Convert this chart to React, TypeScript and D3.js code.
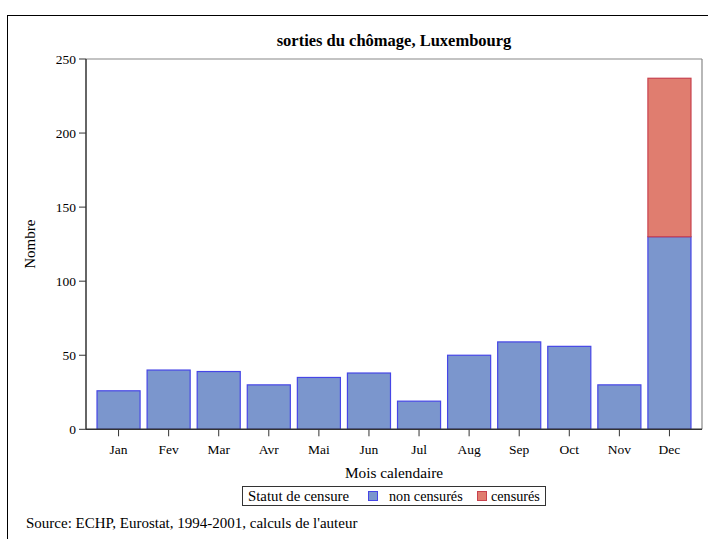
import React from "react";
import * as d3 from "d3";

const months = ["Jan", "Fev", "Mar", "Avr", "Mai", "Jun", "Jul", "Aug", "Sep", "Oct", "Nov", "Dec"];
const nonCensures = [26, 40, 39, 30, 35, 38, 19, 50, 59, 56, 30, 130];
const censures = [0, 0, 0, 0, 0, 0, 0, 0, 0, 0, 0, 107];
const yTicks = [0, 50, 100, 150, 200, 250];

const W = 708;
const H = 539;
const left = 86;
const right = 702;
const top = 59;
const bottom = 429.3;
const font = "'Liberation Serif', 'Times New Roman', serif";

export default function App() {
  const x = d3.scaleBand<string>().domain(months).range([left, right]).paddingInner(0.14).paddingOuter(0.22);
  const y = d3.scaleLinear().domain([0, 250]).range([bottom, top]);
  const bw = x.bandwidth();

  return (
    <svg width={W} height={H} style={{ position: "absolute", left: 0, top: 0, background: "#fff" }} fontFamily={font}>
      <rect x={7.5} y={15.5} width={760} height={600} fill="#fff" stroke="#000" strokeWidth={1} />
      <text x={(left + right) / 2} y={46} textAnchor="middle" fontWeight="bold" fontSize={16.5}>
        sorties du chômage, Luxembourg
      </text>
      <line x1={left} x2={right} y1={top} y2={top} stroke="#888" strokeWidth={1.2} />
      <line x1={right} x2={right} y1={top} y2={bottom} stroke="#888" strokeWidth={1.2} />
      {months.map((m, i) => (
        <g key={m}>
          <rect
            x={x(m)!}
            y={y(nonCensures[i])}
            width={bw}
            height={y(0) - y(nonCensures[i])}
            fill="#7b96cd"
            stroke="#4646e6"
            strokeWidth={1.2}
          />
          {censures[i] > 0 && (
            <rect
              x={x(m)!}
              y={y(nonCensures[i] + censures[i])}
              width={bw}
              height={y(nonCensures[i]) - y(nonCensures[i] + censures[i])}
              fill="#e07d6f"
              stroke="#c8424e"
              strokeWidth={1.2}
            />
          )}
        </g>
      ))}
      <line x1={left} x2={left} y1={top} y2={bottom} stroke="#333" strokeWidth={1.5} />
      <line x1={left} x2={right} y1={bottom} y2={bottom} stroke="#333" strokeWidth={1.5} />
      {yTicks.map((t) => (
        <g key={t}>
          <line x1={left - 7} x2={left} y1={y(t)} y2={y(t)} stroke="#333" strokeWidth={1} />
          <text x={left - 10} y={y(t) + 4.5} textAnchor="end" fontSize={13.5}>
            {t}
          </text>
        </g>
      ))}
      {months.map((m) => (
        <g key={m}>
          <line x1={x(m)! + bw / 2} x2={x(m)! + bw / 2} y1={bottom} y2={bottom + 7} stroke="#333" strokeWidth={1} />
          <text x={x(m)! + bw / 2} y={454} textAnchor="middle" fontSize={13.5}>
            {m}
          </text>
        </g>
      ))}
      <text transform={`translate(35, ${(top + bottom) / 2}) rotate(-90)`} textAnchor="middle" fontSize={15}>
        Nombre
      </text>
      <text x={(left + right) / 2} y={478} textAnchor="middle" fontSize={15.3}>
        Mois calendaire
      </text>
      <rect x={242.5} y={486.5} width={303} height={19} fill="#fff" stroke="#333" strokeWidth={1} />
      <text x={248} y={501} fontSize={14.8}>Statut de censure</text>
      <rect x={368.5} y={491.5} width={9} height={9} fill="#7b96cd" stroke="#4646e6" strokeWidth={1} />
      <text x={389} y={501} fontSize={14.2}>non censurés</text>
      <rect x={477.5} y={491.5} width={9} height={9} fill="#e07d6f" stroke="#c8424e" strokeWidth={1} />
      <text x={491} y={501} fontSize={14.2}>censurés</text>
      <text x={26} y={528} fontSize={15}>
        Source: ECHP, Eurostat, 1994-2001, calculs de l'auteur
      </text>
    </svg>
  );
}
